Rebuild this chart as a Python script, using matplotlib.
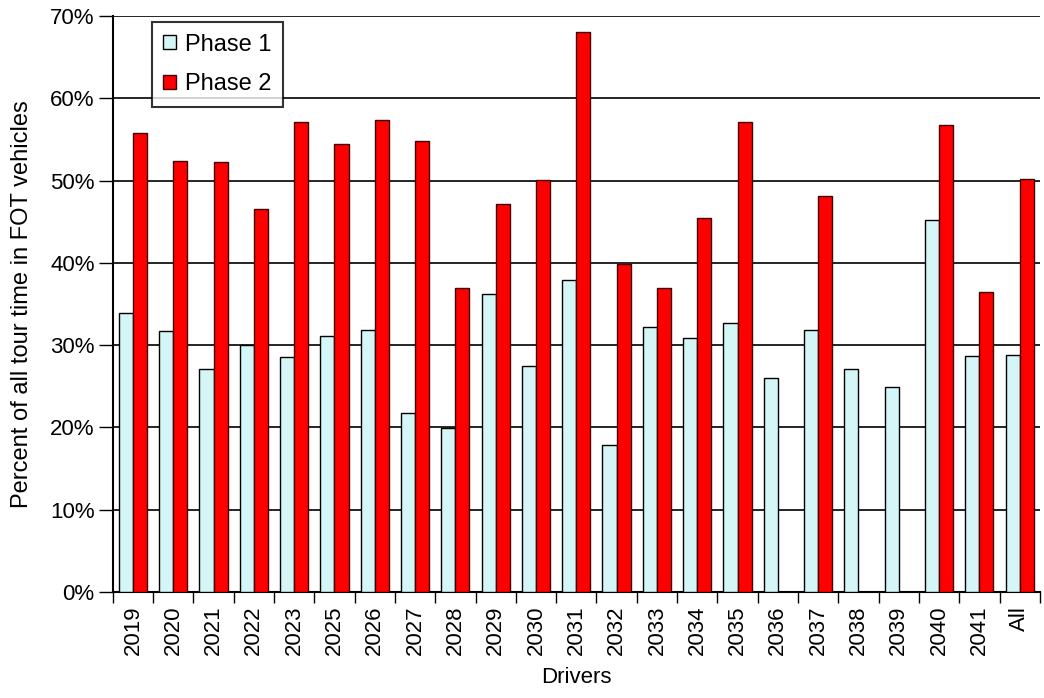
import numpy as np
import matplotlib
matplotlib.use('Agg')
import matplotlib.pyplot as plt

plt.rcParams['font.family'] = ['Liberation Sans', 'DejaVu Sans']

drivers = ["2019", "2020", "2021", "2022", "2023", "2025", "2026", "2027",
           "2028", "2029", "2030", "2031", "2032", "2033", "2034", "2035",
           "2036", "2037", "2038", "2039", "2040", "2041", "All"]
phase1 = [33.9, 31.7, 27.1, 30.0, 28.6, 31.1, 31.8, 21.7, 19.9, 36.2, 27.5,
          37.9, 17.9, 32.2, 30.9, 32.7, 26.0, 31.8, 27.1, 24.9, 45.2, 28.7, 28.8]
phase2 = [55.8, 52.4, 52.3, 46.5, 57.1, 54.5, 57.4, 54.8, 36.9, 47.1, 50.1,
          68.1, 39.8, 36.9, 45.5, 57.1, np.nan, 48.1, np.nan, np.nan, 56.7, 36.4, 50.2]

x = np.arange(len(drivers))
w = 0.35

fig = plt.figure(figsize=(10.44, 6.98), dpi=100)
ax = fig.add_axes([0.108, 0.152, 0.888, 0.825])

ax.bar(x - w / 2, phase1, w, color='#d4f6f6', edgecolor='black', lw=1.0,
       label='Phase 1', zorder=3)
ax.bar(x + w / 2, phase2, w, color='#ff0000', edgecolor='#400000', lw=1.0,
       label='Phase 2', zorder=3)

ax.set_xlim(-0.5, len(drivers) - 0.5)
ax.set_ylim(0, 70)
ax.set_yticks(range(0, 71, 10))
ax.set_yticklabels([f"{v}%" for v in range(0, 71, 10)], fontsize=16)
ax.yaxis.grid(True, color='black', lw=1.2, zorder=0)
ax.set_axisbelow(True)

ax.set_xticks(x)
ax.set_xticklabels(drivers, rotation=90, fontsize=16)
ax.set_xticks(np.arange(-0.5, len(drivers), 1), minor=True)
ax.tick_params(axis='x', which='major', length=0, pad=10)
ax.tick_params(axis='x', which='minor', length=8, width=1, direction='out')
ax.tick_params(axis='y', length=10, width=1, direction='out', pad=3)

for s in ['top', 'right']:
    ax.spines[s].set_visible(False)
ax.spines['left'].set_linewidth(1.5)
ax.spines['bottom'].set_linewidth(1.5)

ax.set_xlabel("Drivers", fontsize=16, labelpad=8)
ax.set_ylabel("Percent of all tour time in FOT vehicles", fontsize=17, labelpad=12)

leg = ax.legend(loc='upper left', bbox_to_anchor=(0.042, 0.99), fontsize=17,
                frameon=True, fancybox=False, edgecolor='black',
                handlelength=0.55, handleheight=0.55, handletextpad=0.35,
                borderpad=0.5, labelspacing=0.75, borderaxespad=0)
leg.get_frame().set_linewidth(1.5)

plt.savefig("out.png", dpi=100)
plt.close()
